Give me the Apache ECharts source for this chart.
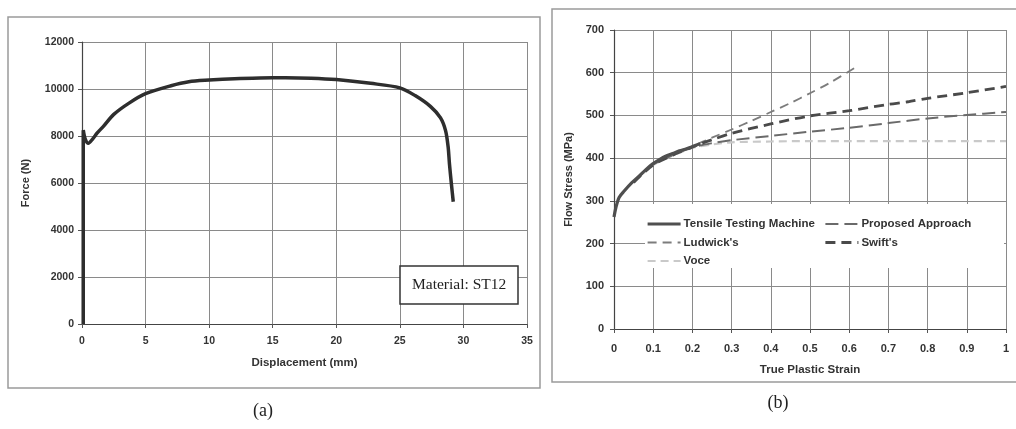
<!DOCTYPE html>
<html>
<head>
<meta charset="utf-8">
<script src="https://cdn.jsdelivr.net/npm/echarts@6/dist/echarts.min.js"></script>
<style>
  html, body { margin: 0; padding: 0; background: #fff; }
  #chart { width: 1016px; height: 429px; }
</style>
</head>
<body>
<div id="chart"></div>
<script>
// ---- (a) force–displacement record, material ST12 ----
const displacement = [0.1, 0.1, 0.25, 0.5, 0.8, 1.2, 1.7, 2.5, 3.7, 5, 7, 8.4, 10, 12, 14, 16, 18, 20, 22.7, 25, 26.2, 27.4, 28.2, 28.6, 28.8, 28.9, 29.05, 29.2];
const force = [0, 8250, 7880, 7690, 7850, 8130, 8420, 8920, 9400, 9800, 10140, 10310, 10380, 10440, 10470, 10480, 10460, 10400, 10240, 10050, 9720, 9260, 8770, 8220, 7520, 6820, 5980, 5200];
const forceTicks = { min: 0, max: 12000, interval: 2000 };
const dispTicks = { min: 0, max: 35, interval: 5 };

// ---- (b) flow stress vs true plastic strain ----
const strainTest = [0, 0.005, 0.013, 0.026, 0.045, 0.064, 0.08, 0.098, 0.115, 0.133, 0.15, 0.167, 0.185, 0.2, 0.22];
const stressTest = [262, 285, 308, 323, 342, 358, 372, 386, 396, 405, 411, 417, 422, 427, 434];

const strainProposed = [0.05, 0.1, 0.15, 0.2, 0.25, 0.3, 0.4, 0.5, 0.6, 0.7, 0.8, 0.9, 1.0];
const stressProposed = [344, 385, 407, 425, 435, 442, 452, 462, 471, 482, 493, 501, 508];

const strainLudwick = [0.05, 0.1, 0.15, 0.2, 0.25, 0.3, 0.35, 0.4, 0.45, 0.5, 0.55, 0.615];
const stressLudwick = [345, 385, 408, 428, 448, 467, 487, 508, 529, 552, 576, 612];

const strainSwift = [0.05, 0.1, 0.15, 0.2, 0.25, 0.3, 0.4, 0.5, 0.6, 0.7, 0.75, 0.8, 0.9, 1.0];
const stressSwift = [343, 384, 407, 426, 443, 458, 480, 499, 511, 526, 532, 540, 553, 568];

const strainVoce = [0.05, 0.1, 0.15, 0.2, 0.25, 0.3, 0.4, 0.5, 0.6, 0.7, 0.8, 0.9, 1.0];
const stressVoce = [343, 384, 406, 424, 432, 437, 439, 440, 440, 440, 440, 440, 440];

const stressTicks = { min: 0, max: 700, interval: 100 };
const strainTicks = { min: 0, max: 1, interval: 0.1 };

const zip = (xs, ys) => xs.map((x, i) => [x, ys[i]]);
const plain = (v) => String(+v.toFixed(2));

const SANS = 'Liberation Sans, Arial, sans-serif';
const SERIF = 'Liberation Serif, Times New Roman, serif';
const labelStyle = { color: '#333', fontFamily: SANS, fontWeight: 'bold' };
const gridLine = { show: true, lineStyle: { color: '#8a8a8a', width: 1 } };

function valueAxis(gridIndex, ticks, extra) {
  return Object.assign({
    type: 'value',
    gridIndex,
    min: ticks.min,
    max: ticks.max,
    interval: ticks.interval,
    axisLine: { show: true, onZero: false, lineStyle: { color: '#444', width: 1.2 } },
    axisTick: { show: true, length: 4, lineStyle: { color: '#555' } },
    splitLine: gridLine,
    nameLocation: 'middle',
    nameTextStyle: Object.assign({ fontSize: 11 }, labelStyle)
  }, extra);
}

const legendBase = {
  orient: 'vertical', top: 218, padding: 0,
  itemWidth: 33, itemHeight: 12, itemGap: 6.5,
  itemStyle: { opacity: 0 },
  textStyle: Object.assign({ fontSize: 11.5, lineHeight: 12, padding: [0, 0, 0, -2] }, labelStyle)
};

const chart = echarts.init(document.getElementById('chart'), null, { renderer: 'canvas' });

chart.setOption({
  animation: false,
  backgroundColor: '#fff',
  title: [{
    text: 'Material: ST12',
    left: 400,
    top: 266,
    padding: [10, 12, 10, 12],
    borderColor: '#333',
    borderWidth: 1.5,
    backgroundColor: '#fff',
    textStyle: { fontFamily: SERIF, fontSize: 15.5, fontWeight: 'normal', color: '#222', lineHeight: 18 }
  }],
  graphic: [
    { type: 'rect', silent: true, shape: { x: 8, y: 17, width: 532, height: 371 },
      style: { fill: 'none', stroke: '#9a9a9a', lineWidth: 1.5 } },
    { type: 'rect', silent: true, shape: { x: 552, y: 9, width: 480, height: 373 },
      style: { fill: 'none', stroke: '#9a9a9a', lineWidth: 1.5 } },
    { type: 'rect', silent: true, z: 3, shape: { x: 645, y: 204, width: 359, height: 64 },
      style: { fill: '#fff' } },
    { type: 'text', silent: true, x: 263, y: 411,
      style: { text: '(a)', font: '18px ' + SERIF, fill: '#222', align: 'center', verticalAlign: 'middle' } },
    { type: 'text', silent: true, x: 778, y: 403,
      style: { text: '(b)', font: '18px ' + SERIF, fill: '#222', align: 'center', verticalAlign: 'middle' } }
  ],
  legend: [
    Object.assign({
      data: [
        { name: 'Tensile Testing Machine', lineStyle: { width: 3.2 } },
        "Ludwick's",
        'Voce'
      ],
      left: 646
    }, legendBase),
    Object.assign({
      data: ['Proposed Approach', { name: "Swift's", lineStyle: { width: 2.8 } }],
      left: 824
    }, legendBase)
  ],
  grid: [
    { left: 82, top: 42, width: 445, height: 282 },
    { left: 614, top: 30, width: 392, height: 299 }
  ],
  xAxis: [
    valueAxis(0, dispTicks, {
      name: 'Displacement (mm)', nameGap: 33,
      nameTextStyle: Object.assign({ fontSize: 11.5 }, labelStyle),
      axisLabel: Object.assign({ fontSize: 10.5, margin: 12, formatter: plain }, labelStyle)
    }),
    valueAxis(1, strainTicks, {
      name: 'True Plastic Strain', nameGap: 35,
      nameTextStyle: Object.assign({ fontSize: 11.5 }, labelStyle),
      axisLabel: Object.assign({ fontSize: 11, margin: 14, formatter: plain }, labelStyle)
    })
  ],
  yAxis: [
    valueAxis(0, forceTicks, {
      name: 'Force (N)', nameGap: 51,
      axisLabel: Object.assign({ fontSize: 10.5, margin: 8, formatter: plain }, labelStyle)
    }),
    valueAxis(1, stressTicks, {
      name: 'Flow Stress (MPa)', nameGap: 40,
      axisLabel: Object.assign({ fontSize: 11, margin: 10, formatter: plain }, labelStyle)
    })
  ],
  series: [
    {
      name: 'Force', type: 'line', xAxisIndex: 0, yAxisIndex: 0,
      data: zip(displacement, force), symbol: 'none', smooth: 0.3,
      lineStyle: { color: '#2e2e2e', width: 3.5 }, z: 5
    },
    {
      name: 'Voce', type: 'line', xAxisIndex: 1, yAxisIndex: 1,
      data: zip(strainVoce, stressVoce), symbol: 'none', smooth: 0.3,
      lineStyle: { color: '#c9c9c9', width: 2.2, type: [8, 5] }, itemStyle: { color: '#c9c9c9' }
    },
    {
      name: 'Proposed Approach', type: 'line', xAxisIndex: 1, yAxisIndex: 1,
      data: zip(strainProposed, stressProposed), symbol: 'none', smooth: 0.3,
      lineStyle: { color: '#6a6a6a', width: 2, type: [13, 6] }, itemStyle: { color: '#6a6a6a' }
    },
    {
      name: "Ludwick's", type: 'line', xAxisIndex: 1, yAxisIndex: 1,
      data: zip(strainLudwick, stressLudwick), symbol: 'none', smooth: 0.3,
      lineStyle: { color: '#7c7c7c', width: 1.8, type: [9, 6] }, itemStyle: { color: '#7c7c7c' }
    },
    {
      name: "Swift's", type: 'line', xAxisIndex: 1, yAxisIndex: 1,
      data: zip(strainSwift, stressSwift), symbol: 'none', smooth: 0.3,
      lineStyle: { color: '#4a4a4a', width: 2.8, type: [10, 6] }, itemStyle: { color: '#4a4a4a' }
    },
    {
      name: 'Tensile Testing Machine', type: 'line', xAxisIndex: 1, yAxisIndex: 1,
      data: zip(strainTest, stressTest), symbol: 'none', smooth: 0.3,
      lineStyle: { color: '#4f4f4f', width: 3.2 }, itemStyle: { color: '#4f4f4f' }
    }
  ]
});
</script>
</body>
</html>
